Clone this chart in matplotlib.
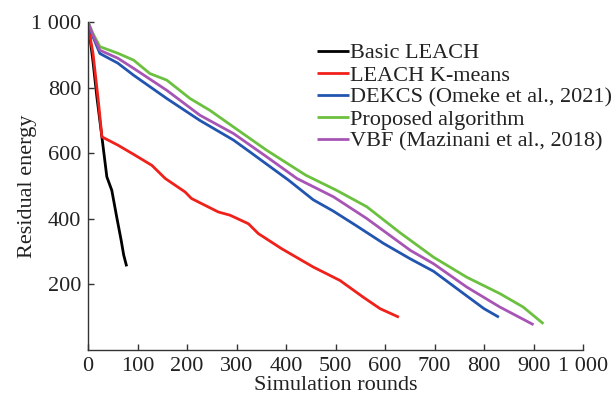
#====== Librerías ======
import matplotlib
matplotlib.use("Agg")
import matplotlib.pyplot as plt
from matplotlib.ticker import FuncFormatter


#====== Datos ======
x_basic = [0, 10, 18, 28, 38, 48, 58, 67, 72, 78]
y_basic = [1000, 880, 770, 650, 528, 487, 405, 334, 290, 255]

x_kmeans = [0, 10, 21, 28, 60, 95, 129, 156, 196, 209, 263, 287, 324, 344, 391, 455, 509, 556, 590, 628]
y_kmeans = [990, 905, 757, 650, 625, 594, 563, 523, 482, 462, 421, 411, 385, 355, 309, 253, 212, 161, 126, 100]

x_dekcs = [0, 10, 24, 60, 92, 159, 226, 294, 327, 405, 455, 495, 543, 597, 651, 698, 765, 800, 830]
y_dekcs = [1000, 955, 904, 875, 838, 767, 700, 640, 604, 518, 458, 424, 378, 325, 278, 240, 165, 126, 100]

x_prop = [0, 10, 24, 60, 92, 125, 159, 206, 246, 294, 361, 440, 502, 563, 630, 698, 765, 832, 879, 920]
y_prop = [1000, 965, 925, 905, 884, 843, 823, 767, 731, 680, 609, 533, 487, 437, 358, 283, 222, 172, 131, 80]

x_vbf = [0, 10, 24, 60, 92, 159, 226, 294, 361, 422, 496, 563, 651, 698, 765, 832, 900]
y_vbf = [1000, 960, 914, 890, 859, 792, 716, 660, 589, 523, 467, 401, 304, 263, 192, 131, 77]

etiquetas = ["Basic LEACH", "LEACH K-means", "DEKCS (Omeke et al., 2021)",
             "Proposed algorithm", "VBF (Mazinani et al., 2018)"]
colores = ["#000000", "#f0201a", "#2255b0", "#6cc040", "#a755b5"]

ticks_x = [0, 100, 200, 300, 400, 500, 600, 700, 800, 900, 1000]
ticks_y = [200, 400, 600, 800, 1000]


#====== Estilo ======
plt.rcParams['font.family'] = ['Liberation Serif', 'DejaVu Serif']
plt.rcParams['font.size'] = 16
color_texto = "#222222"


# Formato con espacio para los miles (1 000)
def miles(v, pos):
    v = int(round(v))
    if v >= 1000:
        return f"{v // 1000} {v % 1000:03d}"
    return str(v)


#====== Gráfico ======
fig = plt.figure(figsize=(6.16, 3.97), dpi=100)
ax = fig.add_axes([0.1429, 0.1184, 0.8036, 0.826])

series = [(x_basic, y_basic), (x_kmeans, y_kmeans), (x_dekcs, y_dekcs),
          (x_prop, y_prop), (x_vbf, y_vbf)]
for (xs, ys), etiqueta, color in zip(series, etiquetas, colores):
    ax.plot(xs, ys, color=color, lw=2.0, label=etiqueta, solid_capstyle='butt')

ax.set_xlim(0, 1000)
ax.set_ylim(0, 1000)
ax.set_xticks(ticks_x)
ax.set_yticks(ticks_y)
ax.xaxis.set_major_formatter(FuncFormatter(miles))
ax.yaxis.set_major_formatter(FuncFormatter(miles))

for lado in ["top", "right"]:
    ax.spines[lado].set_visible(False)
for lado in ["left", "bottom"]:
    ax.spines[lado].set_linewidth(1.0)
    ax.spines[lado].set_color("#333333")

ax.tick_params(direction='in', length=4, width=1.0, colors="#333333",
               labelcolor=color_texto, pad=5)

ax.set_xlabel("Simulation rounds", color=color_texto, labelpad=0)
ax.set_ylabel("Residual energy", color=color_texto)
ax.yaxis.set_label_coords(-0.103, 0.5)

ley = ax.legend(loc='upper left', bbox_to_anchor=(0.5146, 0.892),
                bbox_transform=fig.transFigure, frameon=False,
                handlelength=1.45, handletextpad=0.05, labelspacing=0.07,
                borderpad=0, borderaxespad=0)
for t in ley.get_texts():
    t.set_color(color_texto)

fig.savefig("out.png", dpi=100)
